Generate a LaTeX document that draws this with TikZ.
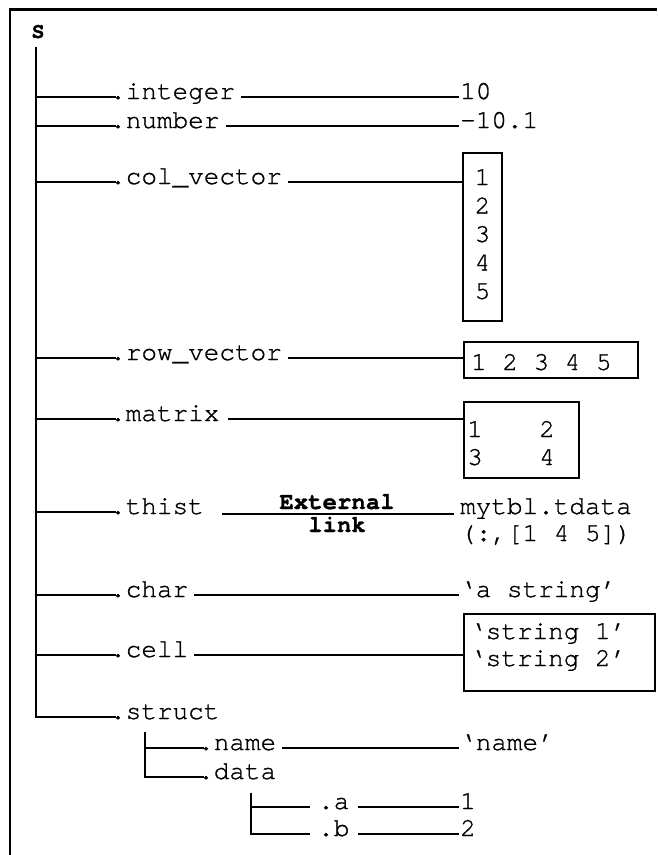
\documentclass[tikz,border=0pt]{standalone}
\usepackage{fontspec}
\setmonofont{texgyrecursor-regular.otf}[BoldFont=texgyrecursor-bold.otf, FakeBold=1]
\begin{document}
\begin{tikzpicture}[x=1pt,y=-1pt,
  txt/.style={inner sep=0pt, font=\ttfamily\fontsize{26}{28}\selectfont},
  fld/.style={txt, anchor=base west},
  val/.style={txt, anchor=base west},
  num/.style={txt, anchor=base},
  lbl/.style={inner sep=0pt, anchor=base, font=\ttfamily\bfseries\fontsize{24}{26}\selectfont},
  ln/.style={line width=1.5pt},
  br/.style={ln, shorten >=-6pt},
  lead/.style={ln, shorten <=6pt, shorten >=1pt},
  valbox/.style={draw, line width=2pt, inner sep=0pt}]
\useasboundingbox (0,0) rectangle (657,855);
\fill[white] (0,0) rectangle (657,855);

% frame (top and left edges)
\draw[line width=2.6pt] (10,855) -- (10,9.3) -- (657,9.3);

% root
\node[lbl, font=\ttfamily\bfseries\fontsize{22}{24}\selectfont] (S) at (38,38) {S};

% integer
\coordinate (rI) at (36,97);
\node[fld] (fI) at (110,99) {.integer};
\node[val] (vI) at (460,99) {10};
\draw[br] (rI) -- (rI -| fI.west);
\draw[lead] (rI -| fI.east) -- (rI -| vI.west);

% number
\coordinate (rN) at (36,126);
\node[fld] (fN) at (110,128) {.number};
\node[val] (vN) at (460,128) {-10.1};
\draw[br] (rN) -- (rN -| fN.west);
\draw[lead] (rN -| fN.east) -- (rN -| vN.west);

% column vector
\coordinate (rC) at (36,182);
\node[fld] (fC) at (110,184) {.col\_vector};
\node[valbox, minimum width=39pt, minimum height=168pt] (bC) at (482.5,237) {};
\foreach \d/\yy in {1/185,2/213.5,3/242,4/270.5,5/299}
  \node[num] (c\d) at (482.5,\yy) {\d};
\draw[br] (rC) -- (rC -| fC.west);
\draw[ln, shorten <=6pt] (rC -| fC.east) -- (rC -| bC.west);

% row vector
\coordinate (rR) at (36,358);
\node[fld] (fR) at (110,360) {.row\_vector};
\node[valbox, minimum width=174pt, minimum height=36pt] (bR) at (551,360) {};
\node[val] (vR) at (471,370) {1 2 3 4 5};
\draw[br] (rR) -- (rR -| fR.west);
\draw[ln, shorten <=6pt] (rR -| fR.east) -- (rR -| bR.west);

% matrix
\coordinate (rM) at (36,419);
\node[fld] (fM) at (110,421) {.matrix};
\node[valbox, minimum width=115pt, minimum height=76pt] (bM) at (521.5,440) {};
\node[num] (m11) at (475,437) {1};
\node[num] (m12) at (547,437) {2};
\node[num] (m21) at (475,465) {3};
\node[num] (m22) at (547,465) {4};
\draw[br] (rM) -- (rM -| fM.west);
\draw[ln, shorten <=8pt] (rM -| fM.east) -- (rM -| bM.west);

% thist (external link)
\coordinate (rT) at (36,512);
\node[fld] (fT) at (110,514) {.thist};
\node[val] (vT) at (460,514) {mytbl.tdata};
\node[val] (vT2) at (460,541) {(:,[1 4 5])};
\draw[br] (rT) -- (rT -| fT.west);
\draw[ln, shorten <=18pt, shorten >=6pt] (fT.base east) -- (vT.base west);
\node[lbl] (ext) at (337,509) {External};
\node[lbl] (lnk) at (337,532) {link};

% char
\coordinate (rH) at (36,595);
\node[fld] (fH) at (110,597) {.char};
\node[val] (vH) at (460,597) {‘a string’};
\draw[br] (rH) -- (rH -| fH.west);
\draw[lead] (rH -| fH.east) -- (rH -| vH.west);

% cell
\coordinate (rL) at (36,655);
\node[fld] (fL) at (110,657) {.cell};
\node[valbox, minimum width=191pt, minimum height=77pt] (bL) at (559.5,652) {};
\node[val] (vL1) at (470,639) {‘string 1’};
\node[val] (vL2) at (470,666) {‘string 2’};
\draw[br] (rL) -- (rL -| fL.west);
\draw[ln, shorten <=6pt] (rL -| fL.east) -- (rL -| bL.west);

% struct and main trunk
\coordinate (rS) at (36,717);
\node[fld] (fS) at (110,719) {.struct};
\draw[ln, shorten <=8pt, shorten >=-6pt] (S.south -| rS) -- (rS) -- (rS -| fS.west);

% struct fields
\coordinate (rName) at (145,748);
\coordinate (rData) at (145,777);
\node[fld] (fName) at (198,750) {.name};
\node[val] (vName) at (460,750) {‘name’};
\node[fld] (fData) at (198,779) {.data};
\draw[ln, shorten <=12pt, shorten >=-6pt] (fS.south -| rName) -- (rData) -- (rData -| fData.west);
\draw[br] (rName) -- (rName -| fName.west);
\draw[lead] (rName -| fName.east) -- (rName -| vName.west);

% data fields
\coordinate (rA) at (251,807);
\coordinate (rB) at (251,834);
\node[fld] (fA) at (318,809) {.a};
\node[val] (vA) at (460,809) {1};
\node[fld] (fB) at (318,836) {.b};
\node[val] (vB) at (460,836) {2};
\draw[ln, shorten <=13pt, shorten >=8pt] (fData.south -| rA) -- (rB) -- (rB -| fB.west);
\draw[ln, shorten >=8pt] (rA) -- (rA -| fA.west);
\draw[lead, shorten <=8pt] (rA -| fA.east) -- (rA -| vA.west);
\draw[lead, shorten <=8pt] (rB -| fB.east) -- (rB -| vB.west);
\end{tikzpicture}
\end{document}
